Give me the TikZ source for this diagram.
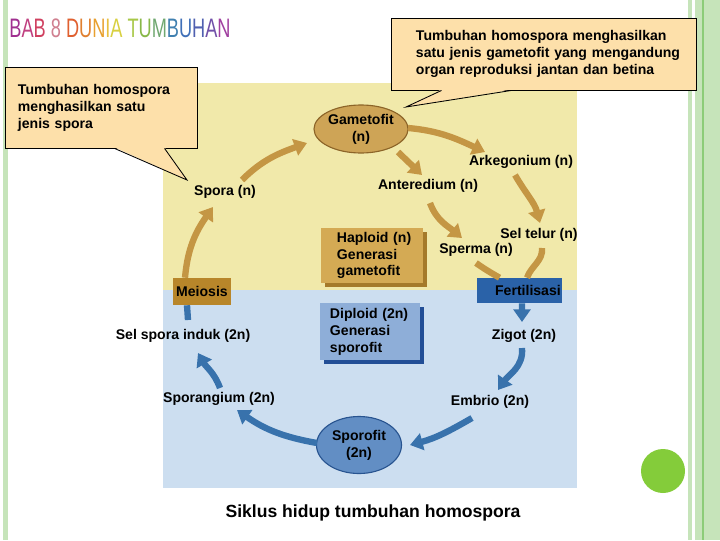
\documentclass[tikz,border=0pt]{standalone}
\usepackage{fontspec}
\setmainfont{Liberation Sans}
\usetikzlibrary{arrows.meta,shapes.geometric,shadows,calc}
\definecolor{kuning}{RGB}{241,233,170}
\definecolor{biru}{RGB}{204,222,240}
\definecolor{coklat}{RGB}{196,150,68}
\definecolor{gamisi}{RGB}{206,164,86}
\definecolor{gamtepi}{RGB}{140,100,40}
\definecolor{hapisi}{RGB}{212,170,84}
\definecolor{hapbayang}{RGB}{165,122,42}
\definecolor{meiisi}{RGB}{184,134,42}
\definecolor{birutua}{RGB}{56,114,172}
\definecolor{ferisi}{RGB}{42,98,168}
\definecolor{sporisi}{RGB}{98,142,196}
\definecolor{sportepi}{RGB}{40,84,144}
\definecolor{dipisi}{RGB}{142,174,216}
\definecolor{dipbayang}{RGB}{34,78,150}
\definecolor{balonisi}{RGB}{253,224,170}
\definecolor{garismuda}{RGB}{198,228,186}
\definecolor{garistua}{RGB}{140,204,120}
\definecolor{bulat}{RGB}{132,204,58}
\begin{document}
\begin{tikzpicture}[x=0.025cm,y=-0.025cm,
		teks/.style={font=\bfseries\fontsize{10}{12}\selectfont, inner sep=0pt, align=center},
		panahcoklat/.style={draw=coklat, line width=4.5pt, -{Triangle[length=9pt,width=12pt]}},
		garcoklat/.style={draw=coklat, line width=4.5pt},
		panahbiru/.style={draw=birutua, line width=4.5pt, -{Triangle[length=9pt,width=12pt]}},
		garbiru/.style={draw=birutua, line width=4.5pt},
		kotak/.style={rectangle, inner sep=0pt, teks, align=left},
		balon/.style={rectangle, draw=black, line width=0.6pt, fill=balonisi, align=left, font=\bfseries\fontsize{10}{12.1}\selectfont}]
	\useasboundingbox (0,0) rectangle (720,540);
	% Latar dan garis hijau
		\fill[white] (0,0) rectangle (720,540);
		\fill[garismuda] (3,0) rectangle (8,540);
		\fill[garismuda] (688,0) rectangle (692,540);
		\fill[garismuda] (695,0) rectangle (720,540);
		\fill[garistua] (702,0) rectangle (703.5,540);
		\fill[bulat] (663,471) circle (22);
	% Judul
		\node[inner sep=0pt, font=\fontsize{19}{19}\selectfont] (judul) at (120,28) {\scalebox{0.68}[1]{\textcolor[RGB]{160,48,144}{B}\textcolor[RGB]{192,64,128}{A}\textcolor[RGB]{208,64,96}{B} \textcolor[RGB]{208,128,144}{8} \textcolor[RGB]{224,96,48}{D}\textcolor[RGB]{224,128,48}{U}\textcolor[RGB]{232,160,48}{N}\textcolor[RGB]{232,192,64}{I}\textcolor[RGB]{216,208,64}{A} \textcolor[RGB]{168,200,72}{T}\textcolor[RGB]{136,184,72}{U}\textcolor[RGB]{112,168,112}{M}\textcolor[RGB]{64,128,176}{B}\textcolor[RGB]{64,112,184}{U}\textcolor[RGB]{80,96,176}{H}\textcolor[RGB]{112,80,168}{A}\textcolor[RGB]{160,64,160}{N}}};
	% Gambar siklus
		\fill[kuning] (163,83) rectangle (577,290);
		\fill[biru] (163,290) rectangle (577,488);
		\node[ellipse, fill=gamisi, draw=gamtepi, line width=0.8pt, minimum width=2.35cm, minimum height=1.2cm, teks] (gametofit) at (361,129) {Gametofit\\(n)};
		\node[ellipse, fill=sporisi, draw=sportepi, line width=0.8pt, minimum width=2.125cm, minimum height=1.425cm, teks] (sporofit) at (359,445) {Sporofit\\(2n)};
		\node[teks] (arkegonium) at (521,162) {Arkegonium (n)};
		\node[teks] (anteredium) at (428,186) {Anteredium (n)};
		\node[teks] (seltelur) at (539,235) {Sel telur (n)};
		\node[teks] (sperma) at (476,250) {Sperma (n)};
		\node[teks] (zigot) at (524,336) {Zigot (2n)};
		\node[teks] (embrio) at (490,402) {Embrio (2n)};
		\node[teks] (sporangium) at (219,399) {Sporangium (2n)};
		\node[teks] (selspora) at (183,336) {Sel spora induk (2n)};
		\node[teks] (spora) at (225,192) {Spora (n)};
		\node[kotak, fill=hapisi, minimum width=2.55cm, minimum height=1.375cm, text width=1.75cm, drop shadow={shadow xshift=2.5pt, shadow yshift=-2.5pt, fill=hapbayang, opacity=1}] (haploid) at (372,255.5) {\mbox{Haploid (n)}\\Generasi\\gametofit};
		\node[kotak, fill=dipisi, minimum width=2.5cm, minimum height=1.425cm, text width=2.0cm, drop shadow={shadow xshift=2.5pt, shadow yshift=-2.5pt, fill=dipbayang, opacity=1}] (diploid) at (370,331.5) {Diploid (2n)\\Generasi\\sporofit};
		\node[teks, fill=meiisi, minimum width=1.45cm, minimum height=0.675cm] (meiosis) at (202,291.5) {Meiosis};
		\node[teks, fill=ferisi, minimum width=2.125cm, minimum height=0.625cm] (fertilisasi) at (519.5,290.5) {\hspace{12pt}Fertilisasi};
	% Panah fase gametofit
		\draw[panahcoklat] ($(gametofit)+(47,-1)$) to[out=-5,in=155] ($(arkegonium)+(-36,-10)$);
		\draw[panahcoklat] ($(gametofit)+(37,23)$) -- ($(anteredium)+(-6,-11)$);
		\draw[panahcoklat] ($(arkegonium)+(-6,13)$) to[out=-60,in=105] ($(seltelur)+(1,-12)$);
		\draw[panahcoklat] ($(anteredium)+(2,17)$) to[out=-70,in=140] ($(sperma)+(-14,-12)$);
		\draw[garcoklat] ($(sperma)+(0,13)$) to[out=-35,in=150] ($(fertilisasi.north)+(-20,0)$);
		\draw[garcoklat] ($(seltelur)+(3,13)$) to[out=-85,in=70] ($(fertilisasi.north)+(7.5,0)$);
		\draw[panahcoklat] ($(meiosis.north)+(-17,0)$) to[out=85,in=235] ($(spora)+(-12,15)$);
		\draw[panahcoklat] ($(spora)+(17,-12)$) to[out=45,in=200] ($(gametofit)+(-54,14)$);
	% Panah fase sporofit
		\draw[panahbiru] ($(fertilisasi.south)+(2.5,0)$) -- ($(zigot)+(-2,-14)$);
		\draw[panahbiru] ($(zigot)+(-2,12)$) to[out=-85,in=55] ($(embrio)+(8,-12)$);
		\draw[panahbiru] ($(embrio)+(-18,16)$) to[out=-150,in=15] ($(sporofit)+(51,0)$);
		\draw[panahbiru] ($(sporofit)+(-42,-2)$) to[out=170,in=-35] ($(sporangium)+(18,11)$);
		\draw[panahbiru] ($(sporangium)+(1,-11)$) to[out=110,in=-60] ($(selspora)+(15,17)$);
		\draw[garbiru] ($(selspora)+(5,-16)$) -- ($(meiosis.south)+(-15,0)$);
	% Balon keterangan
		\node[balon, minimum width=7.625cm, minimum height=1.8cm, inner xsep=0.625cm, text width=6.375cm] (balonkanan) at (543.5,54) {\mbox{Tumbuhan homospora menghasilkan}\\\mbox{satu jenis gametofit yang mengandung}\\\mbox{organ reproduksi jantan dan betina}};
		\coordinate (ujungkanan) at (406,107);
		\fill[balonisi] ($(balonkanan.south west)+(51,-1)$) -- (ujungkanan) -- ($(balonkanan.south west)+(121,-1)$) -- cycle;
		\draw[line width=0.6pt] ($(balonkanan.south west)+(51,0)$) -- (ujungkanan) -- ($(balonkanan.south west)+(121,0)$);
		\node[balon, minimum width=4.8cm, minimum height=2.025cm, inner xsep=0.325cm, text width=4.15cm] (balonkiri) at (101,107.5) {Tumbuhan homospora\\menghasilkan satu\\jenis spora};
		\coordinate (ujungkiri) at (187,180);
		\fill[balonisi] ($(balonkiri.south west)+(110,-1)$) -- (ujungkiri) -- ($(balonkiri.south west)+(160,-1)$) -- cycle;
		\draw[line width=0.6pt] ($(balonkiri.south west)+(110,0)$) -- (ujungkiri) -- ($(balonkiri.south west)+(160,0)$);
	% Keterangan bawah
		\node[inner sep=0pt, font=\bfseries\fontsize{12.5}{15}\selectfont] (keterangan) at (373,513) {Siklus hidup tumbuhan homospora};
\end{tikzpicture}
\end{document}
